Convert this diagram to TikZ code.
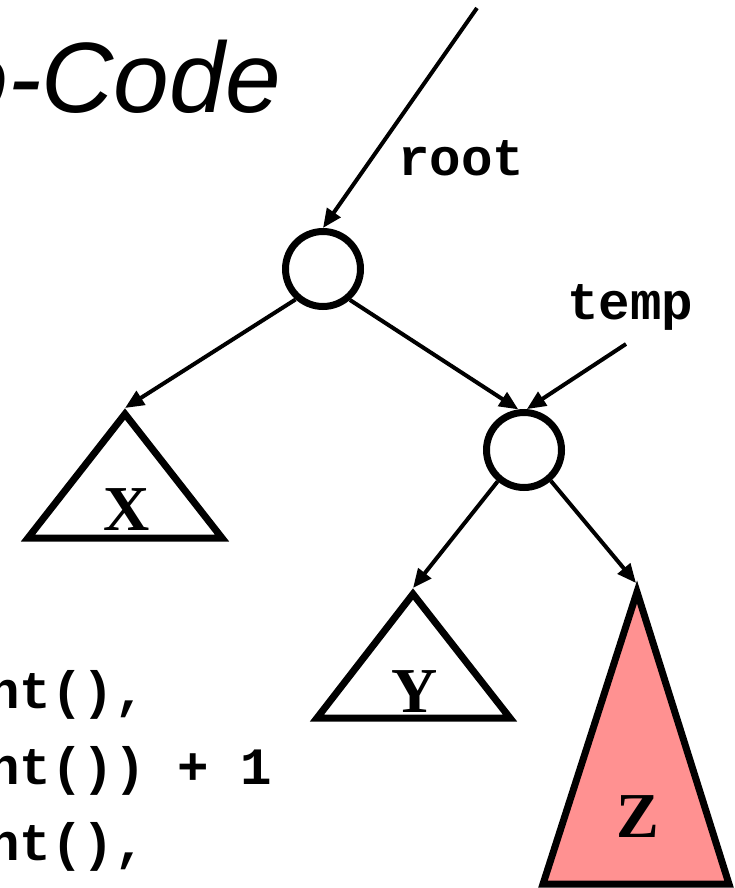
\documentclass[tikz,border=0pt]{standalone}
\usepackage{fontspec}
\newfontfamily\titlefont{Liberation Sans}
\newfontfamily\codefont{Liberation Mono}
\newfontfamily\lblfont{Liberation Serif}
\usetikzlibrary{arrows.meta}
\definecolor{zpink}{RGB}{255,145,145}
\tikzset{
  treenode/.style={circle, draw, line width=7pt, minimum size=75pt, inner sep=0pt},
  arr/.style={line width=4pt, -{Triangle[length=19pt,width=16pt]}, shorten >=0pt},
  subtree/.style={draw, line width=7pt, line join=miter},
  lbl/.style={inner sep=0pt, anchor=base, font=\lblfont\bfseries\fontsize{64}{70}\selectfont},
  code/.style={inner sep=0pt, anchor=base west, font=\codefont\bfseries\fontsize{52.5}{60}\selectfont},
  ptr/.style={inner sep=0pt, anchor=base west, font=\codefont\bfseries\fontsize{52.5}{60}\selectfont}
}
\begin{document}
\begin{tikzpicture}[x=1pt,y=-1pt]
\useasboundingbox (0,0) rectangle (735,888);
% title
\node[inner sep=0pt, anchor=base east, font=\titlefont\itshape\fontsize{100}{120}\selectfont] (title) at (281,113) {o-Code};
% code lines
\node[code] (c1) at (-12,708) {nt(),};
\node[code] (c2) at (-12,784) {nt()) + 1};
\node[code] (c3) at (-12,860) {nt(),};
% tree nodes
\node[treenode] (root) at (323,269) {};
\node[treenode] (temp) at (524,450) {};
% subtrees
\coordinate (xa) at (125,414);
\coordinate (xl) at (28,538);
\coordinate (xr) at (222,538);
\draw[subtree] (xa) -- (xl) -- (xr) -- cycle;
\coordinate (ya) at (413,594);
\coordinate (yl) at (317,718);
\coordinate (yr) at (510,718);
\draw[subtree] (ya) -- (yl) -- (yr) -- cycle;
\coordinate (za) at (637,592);
\coordinate (zl) at (543,884);
\coordinate (zr) at (729,884);
\draw[subtree, fill=zpink] (za) -- (zl) -- (zr) -- cycle;
\node[lbl] (X) at (127,530) {X};
\node[lbl] (Y) at (415,712) {Y};
\node[lbl] (Z) at (638,837) {Z};
% pointer labels
\node[ptr] (rootlbl) at (398,175) {root};
\node[ptr] (templbl) at (567,319) {temp};
% arrow tails
\coordinate (rootin) at (477,8);
\coordinate (tempin) at (626,344);
\coordinate (xtip) at (125,408);
\coordinate (ytip) at (413,588);
\coordinate (ztip) at (636,583);
% connectors
\draw[arr] (rootin) -- (root.north);
\draw[arr] (tempin) -- (temp.86);
\draw[arr] (root.228) -- (xtip);
\draw[arr] (root.-49) -- (temp.98);
\draw[arr] (temp.230) -- (ytip);
\draw[arr] (temp.-49) -- (ztip);
\end{tikzpicture}
\end{document}
